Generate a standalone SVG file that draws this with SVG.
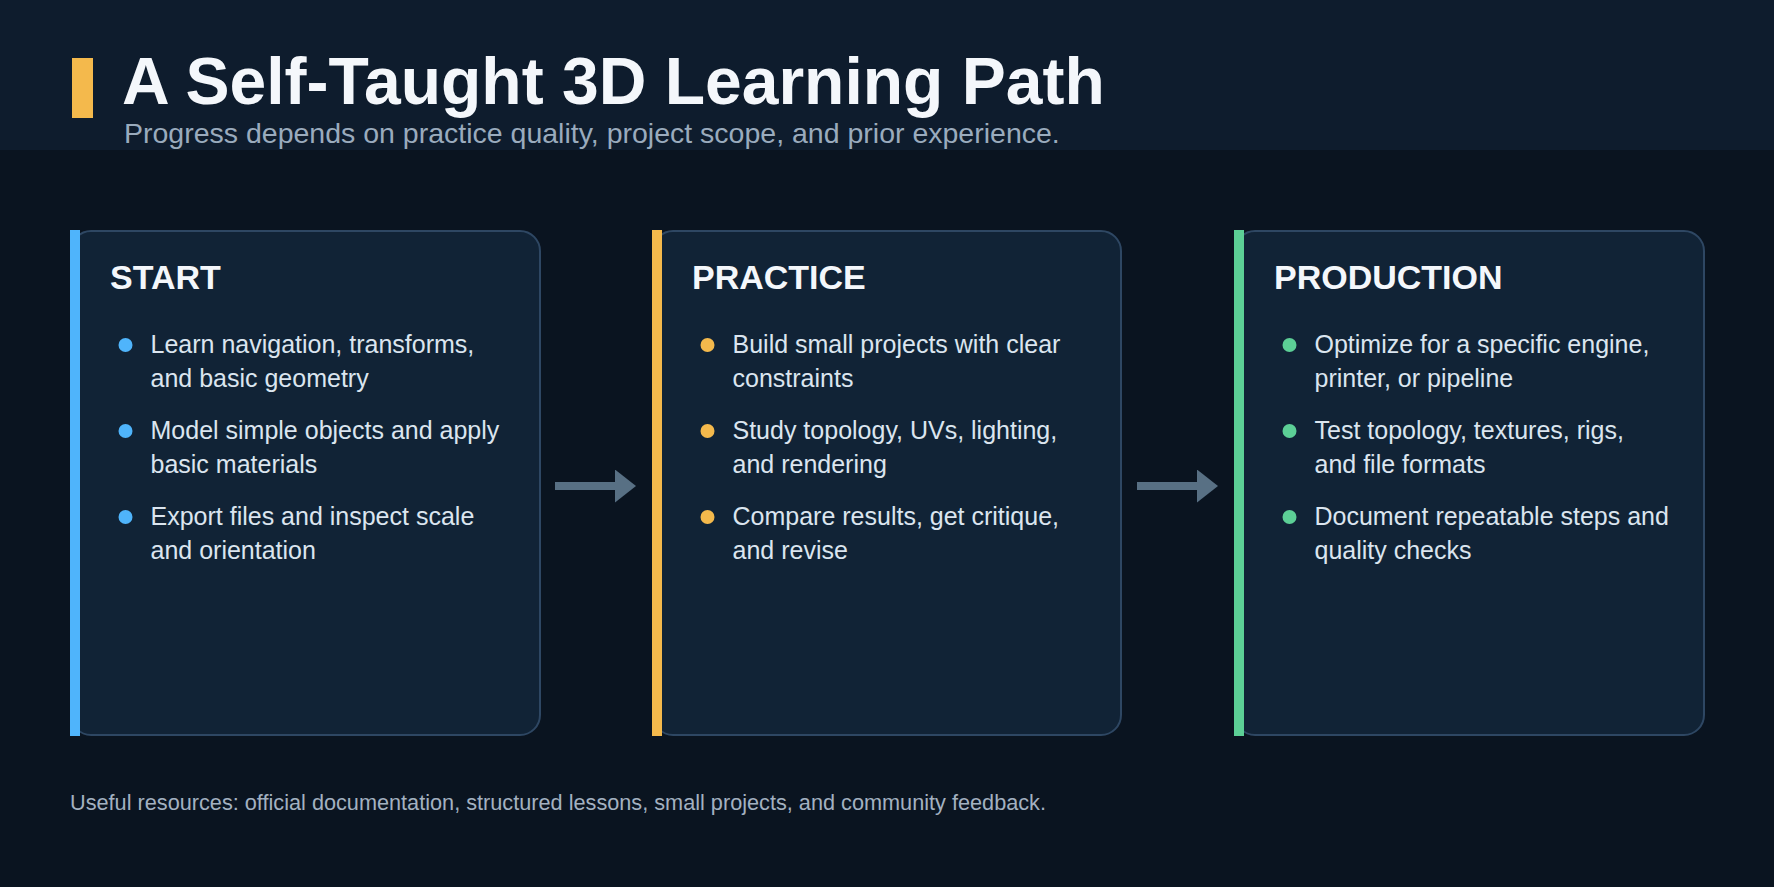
<svg xmlns="http://www.w3.org/2000/svg" width="1774" height="887" viewBox="0 0 1774 887">
<defs>
<style>
.bg{fill:#0a1420}
.hdr{fill:#0e1c2d}
.card{fill:#112336;stroke:#2e4763;stroke-width:2}
.title{font-family:"Liberation Sans",Arial,sans-serif;font-weight:bold;font-size:66px;fill:#f4f7fb}
.sub{font-family:"Liberation Sans",Arial,sans-serif;font-size:28.5px;fill:#9aabbd}
.ctitle{font-family:"Liberation Sans",Arial,sans-serif;font-weight:bold;font-size:34px;fill:#f4f7fb}
.item{font-family:"Liberation Sans",Arial,sans-serif;font-size:25px;fill:#dbe5ef}
.foot{font-family:"Liberation Sans",Arial,sans-serif;font-size:21.7px;fill:#a3b1c0}
.conn{stroke:#587084;stroke-width:8;fill:none}
</style>
<marker id="ah" markerUnits="userSpaceOnUse" markerWidth="22" markerHeight="34" refX="0" refY="16.5" orient="auto">
<path d="M0,0 L21,16.5 L0,33 Z" fill="#587084"/>
</marker>
</defs>
<rect class="bg" x="0" y="0" width="1774" height="887"/>
<rect class="hdr" x="0" y="0" width="1774" height="150"/>
<g id="header">
<rect x="72" y="58" width="21" height="60" fill="#f4b94c"/>
<text class="title" x="122" y="104">A Self-Taught 3D Learning Path</text>
<text class="sub" x="124" y="143">Progress depends on practice quality, project scope, and prior experience.</text>
</g>
<g id="start">
<rect class="card" x="71" y="231" width="469" height="504" rx="20"/>
<rect x="70" y="230" width="10" height="506" fill="#4fb4fb"/>
<text class="ctitle" x="110" y="289">START</text>
<g fill="#4fb4fb"><circle cx="125.5" cy="345" r="7"/><circle cx="125.5" cy="431" r="7"/><circle cx="125.5" cy="517" r="7"/></g>
<text class="item" x="150.5" y="353">Learn navigation, transforms,</text>
<text class="item" x="150.5" y="387">and basic geometry</text>
<text class="item" x="150.5" y="439">Model simple objects and apply</text>
<text class="item" x="150.5" y="473">basic materials</text>
<text class="item" x="150.5" y="525">Export files and inspect scale</text>
<text class="item" x="150.5" y="559">and orientation</text>
</g>
<g id="practice">
<rect class="card" x="653" y="231" width="468" height="504" rx="20"/>
<rect x="652" y="230" width="10" height="506" fill="#f4b94c"/>
<text class="ctitle" x="692" y="289">PRACTICE</text>
<g fill="#f4b94c"><circle cx="707.5" cy="345" r="7"/><circle cx="707.5" cy="431" r="7"/><circle cx="707.5" cy="517" r="7"/></g>
<text class="item" x="732.5" y="353">Build small projects with clear</text>
<text class="item" x="732.5" y="387">constraints</text>
<text class="item" x="732.5" y="439">Study topology, UVs, lighting,</text>
<text class="item" x="732.5" y="473">and rendering</text>
<text class="item" x="732.5" y="525">Compare results, get critique,</text>
<text class="item" x="732.5" y="559">and revise</text>
</g>
<g id="production">
<rect class="card" x="1235" y="231" width="469" height="504" rx="20"/>
<rect x="1234" y="230" width="10" height="506" fill="#5ccf96"/>
<text class="ctitle" x="1274" y="289">PRODUCTION</text>
<g fill="#5ccf96"><circle cx="1289.5" cy="345" r="7"/><circle cx="1289.5" cy="431" r="7"/><circle cx="1289.5" cy="517" r="7"/></g>
<text class="item" x="1314.5" y="353">Optimize for a specific engine,</text>
<text class="item" x="1314.5" y="387">printer, or pipeline</text>
<text class="item" x="1314.5" y="439">Test topology, textures, rigs,</text>
<text class="item" x="1314.5" y="473">and file formats</text>
<text class="item" x="1314.5" y="525">Document repeatable steps and</text>
<text class="item" x="1314.5" y="559">quality checks</text>
</g>
<g id="connectors">
<line class="conn" x1="555" y1="486" x2="615" y2="486" marker-end="url(#ah)"/>
<line class="conn" x1="1137" y1="486" x2="1197" y2="486" marker-end="url(#ah)"/>
</g>
<g id="footer">
<text class="foot" x="70" y="810">Useful resources: official documentation, structured lessons, small projects, and community feedback.</text>
</g>
</svg>
